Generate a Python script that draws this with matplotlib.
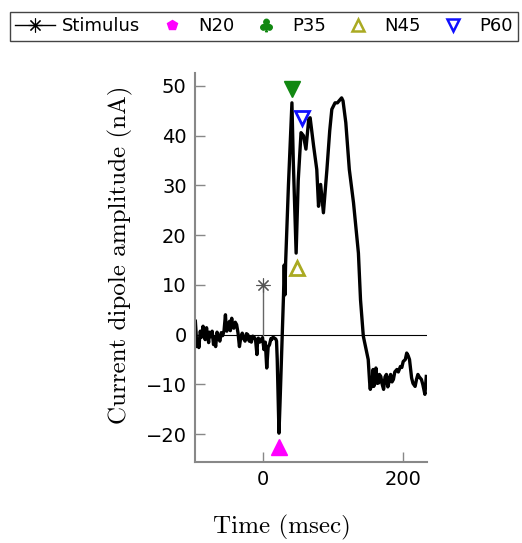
import numpy as np
import matplotlib
matplotlib.use("Agg")
import matplotlib.pyplot as plt
from matplotlib.lines import Line2D
from matplotlib.legend_handler import HandlerLine2D

# dipole trace (msec, nA)
time_ms = [-97, -96, -95, -93, -92, -90, -88, -86, -85, -83, -81, -80, -78, -77,
           -75, -73, -71, -70, -68, -66, -64, -62, -60, -58, -56, -54, -53, -52,
           -50, -48, -47, -45, -44, -42, -40, -38, -36, -34, -32, -30, -28, -26,
           -24, -22, -20, -19, -17, -15, -13, -11, -9, -8, -7, -5, -3, -1,
           1, 3, 5, 7, 9, 11, 12, 14, 16, 18, 19, 20, 22.5, 24, 27, 29, 30, 31,
           32, 36, 41, 43, 47, 50, 54, 57.5, 61, 65, 67, 72, 76.5, 79, 82, 86,
           91, 95, 98, 102.6, 106, 112, 114, 118, 123, 129, 136, 139, 143, 148,
           150, 152, 153, 154, 155, 157, 158, 160, 161, 163, 165, 166, 168, 170,
           172, 174, 176, 178, 179, 181, 182, 184, 186, 188, 191, 193, 196, 198,
           200, 203, 205, 207, 209, 212, 214, 217, 219, 221, 223, 226, 228, 230,
           231, 233]
amp_nA = [2.7, 0.5, -2.4, -1.0, -2.6, 0.7, -0.5, 1.7, 0.2, -1.0, 1.4, 0.2, -1.6, 0.5,
          -0.4, 0.7, -2.0, -0.6, -2.4, 0.5, -0.5, -1.3, 0.4, -0.2, 0.8, 4.0, 1.5, 0.7,
          2.2, 2.7, 0.8, 3.3, 1.5, 1.3, 2.5, 2.0, 0.3, -2.4, -0.5, 0.3, -0.8, -1.3,
          0.2, 0.0, -1.3, -0.5, -1.5, -0.3, -0.5, -1.0, -4.0, -1.0, -0.7, -1.5, -1.0, -0.6,
          -3.0, -1.5, -6.7, -2.5, -2.0, -0.8, -1.0, -0.5, -0.7, -0.9, -1.3, -5.0, -19.8,
          -13.7, -0.3, 8.0, 14.0, 8.0,
          14.5, 30.0, 46.6, 34.6, 16.4, 31.0, 40.6, 40.0, 37.3, 43.3, 43.6, 37.9, 33.2,
          25.8, 30.2, 24.5, 33.2, 41.0, 45.3, 46.6, 46.6, 47.6, 47.0, 42.6, 33.2, 26.5,
          16.4, 7.0, -0.3, -3.7,
          -5.0, -9.5, -11.0, -8.7, -10.5, -7.0, -10.4, -8.0, -6.7, -9.8, -9.7, -8.0, -8.4,
          -10.0, -11.0, -8.5, -8.0, -10.5, -10.0, -8.5, -8.0, -9.5, -9.0, -7.5, -7.0,
          -7.5, -6.4, -6.6, -5.4, -5.0, -3.7, -4.2, -5.0, -8.7, -9.8, -10.4, -9.0, -8.0,
          -8.5, -9.0, -10.0, -11.4, -12.0, -8.4]

stim_t, stim_v = 0, 10
peak_names = ["N20", "P35", "N45", "P60"]
peak_t = [23, 41, 48, 56]
peak_v = [-22.5, 49.3, 13.4, 43.6]

xticks = [0, 200]
yticks = [-20, -10, 0, 10, 20, 30, 40, 50]

fig = plt.figure(figsize=(5.22, 5.43), dpi=100)
ax = fig.add_axes([195/522, 1-462/543, 232/522, 389/543])

ax.axhline(0, color="k", lw=0.8)
ax.plot([stim_t, stim_t], [0, stim_v], color="#666666", lw=1)
ax.plot([stim_t], [stim_v], marker=(8, 2, 0), ms=10, color="#555555", mew=0.8, ls="none")
ax.plot(time_ms, amp_nA, color="k", lw=2.4, solid_joinstyle="round")

ax.plot(peak_t[0], peak_v[0], marker="^", ms=11, color="#ff00ff", ls="none")
ax.plot(peak_t[1], peak_v[1], marker="v", ms=11, color="#118811", ls="none")
ax.plot(peak_t[2], peak_v[2], marker="^", ms=10, mfc="none", mec="#aaaa22", mew=2, ls="none")
ax.plot(peak_t[3], peak_v[3], marker="v", ms=10, mfc="none", mec="#1010ff", mew=2, ls="none")

ax.set_xlim(-97.5, 234)
ax.set_ylim(-25.6, 52.6)
ax.set_xticks(xticks)
ax.set_yticks(yticks)
ax.set_yticklabels([str(v).replace("-", "\u2212") for v in yticks])
for s in ["top", "right"]:
    ax.spines[s].set_visible(False)
for s in ["left", "bottom"]:
    ax.spines[s].set_color("#888888")
    ax.spines[s].set_linewidth(1.5)
ax.tick_params(direction="in", length=7, width=1, color="#888888",
               labelsize=14, pad=6)
for lab in ax.get_xticklabels() + ax.get_yticklabels():
    lab.set_fontfamily("DejaVu Sans")

fig.text(282/522, 1-527/543, "Time (msec)", family="cmr10", fontsize=18,
         ha="center", va="center")
fig.text(120/522, 1-255/543, "Current dipole amplitude (nA)", family="cmr10",
         fontsize=18, rotation=90, ha="center", va="center")


class StimHandler(HandlerLine2D):
    def get_xdata(self, legend, xdescent, ydescent, width, height, fontsize):
        xd = np.array([-xdescent, -xdescent + width])
        return xd, np.array([-xdescent + 0.78 * width])


h_stim = Line2D([], [], color="k", lw=1, marker=(8, 2, 0), ms=10, mew=0.8)
handles = [
    h_stim,
    Line2D([], [], ls="none", marker="p", ms=7, color="#ff00ff"),
    Line2D([], [], ls="none", marker=r"$\clubsuit$", ms=9, color="#118811"),
    Line2D([], [], ls="none", marker="^", ms=8, mfc="none", mec="#aaaa22", mew=1.8),
    Line2D([], [], ls="none", marker="v", ms=8, mfc="none", mec="#1010ff", mew=1.8),
]
labels = ["Stimulus"] + peak_names
leg = fig.legend(handles, labels, loc="upper left", ncol=5,
                 bbox_to_anchor=(10/522, 1-12/543), borderaxespad=0,
                 frameon=True, fancybox=False, edgecolor="#444444",
                 framealpha=1, handlelength=2.2, handletextpad=0.35,
                 columnspacing=0.67, borderpad=0.3, numpoints=1,
                 prop={"family": "DejaVu Sans", "size": 13},
                 handler_map={h_stim: StimHandler()})
leg.get_frame().set_linewidth(1)

fig.savefig("out.png", dpi=100)
